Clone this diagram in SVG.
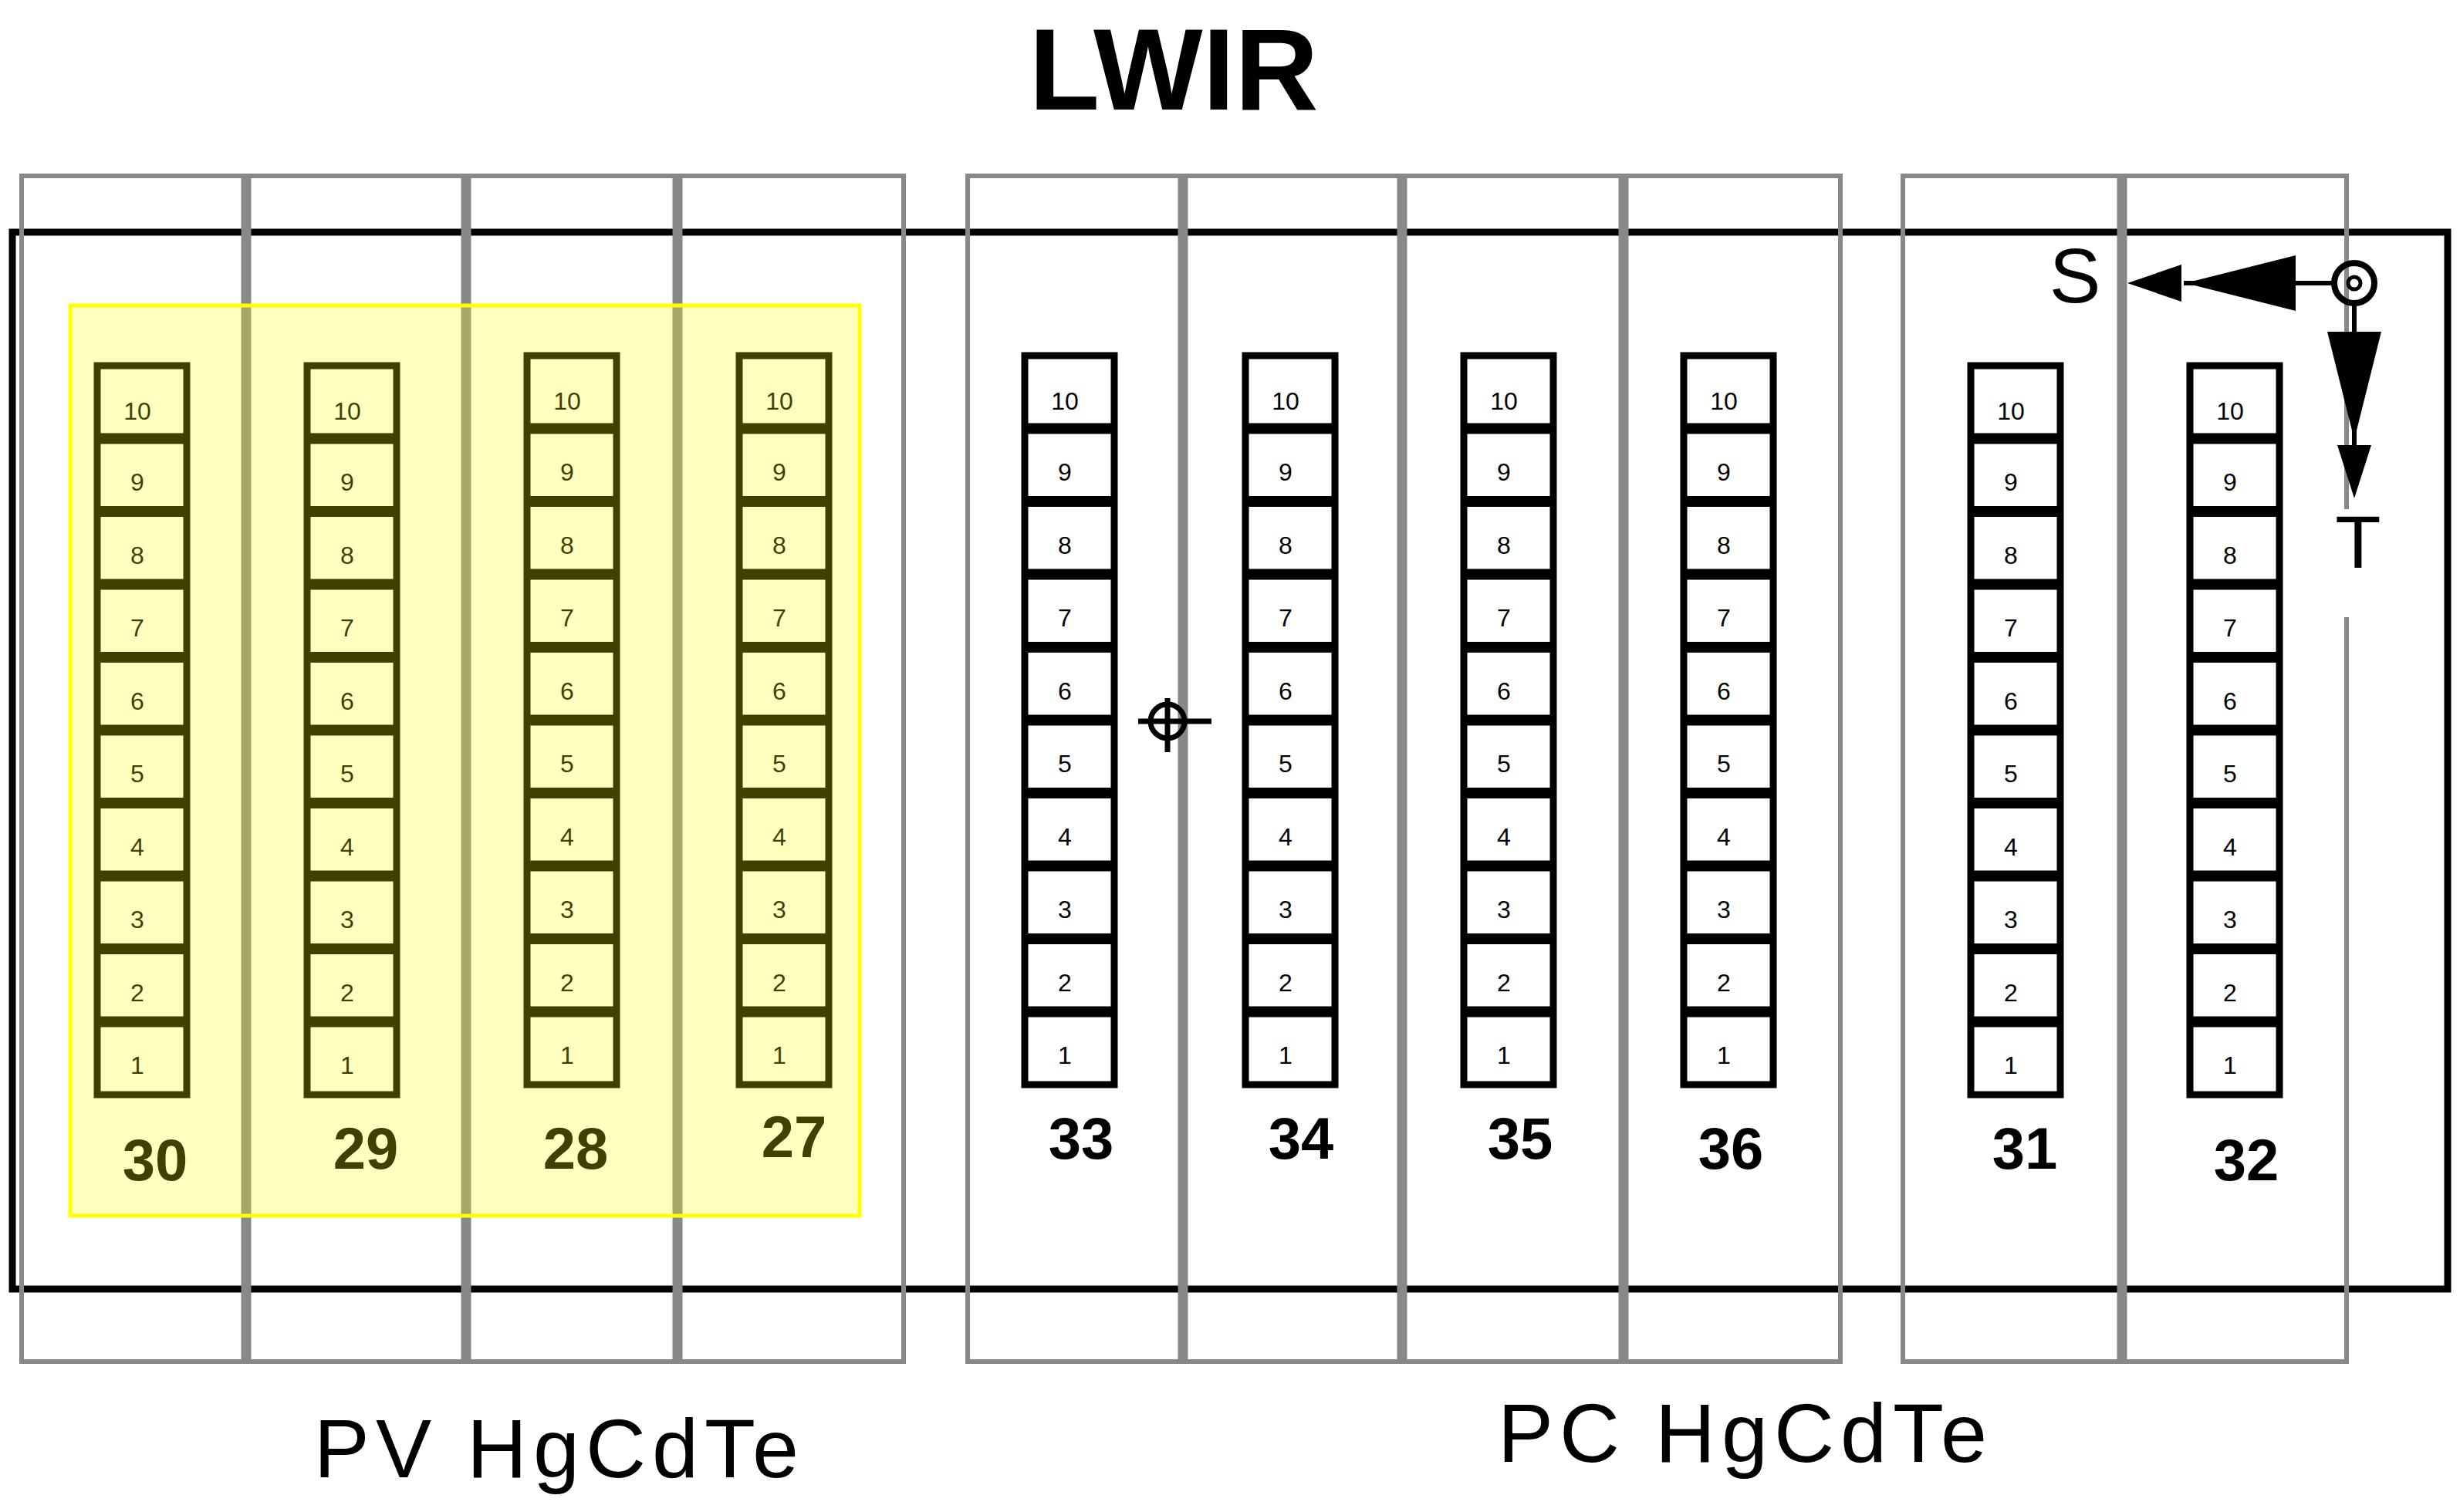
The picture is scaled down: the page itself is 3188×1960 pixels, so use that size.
<svg xmlns="http://www.w3.org/2000/svg" width="3188" height="1960" viewBox="0 0 3188 1960">
<style>
.g{fill:none;stroke:#888;stroke-width:6}
.gd{stroke:#888;stroke-width:13}
.cell{fill:#fff;stroke:#000;stroke-width:9}
.sep{stroke:#000;stroke-width:14}
.n{font-family:"Liberation Sans",Arial,sans-serif;font-size:32px;text-anchor:middle;fill:#000}
.lab{font-family:"Liberation Sans",Arial,sans-serif;font-size:76px;font-weight:bold;text-anchor:middle;fill:#000}
.big{font-family:"Liberation Sans",Arial,sans-serif;font-size:108px;text-anchor:middle;fill:#000;letter-spacing:8px}
</style>
<defs>
<g id="col">
<rect class="cell" x="0" y="0" width="116" height="945"/>
<line class="sep" x1="0" x2="116" y1="94.5" y2="94.5"/><line class="sep" x1="0" x2="116" y1="189" y2="189"/>
<line class="sep" x1="0" x2="116" y1="283.5" y2="283.5"/><line class="sep" x1="0" x2="116" y1="378" y2="378"/>
<line class="sep" x1="0" x2="116" y1="472.5" y2="472.5"/><line class="sep" x1="0" x2="116" y1="567" y2="567"/>
<line class="sep" x1="0" x2="116" y1="661.5" y2="661.5"/><line class="sep" x1="0" x2="116" y1="756" y2="756"/>
<line class="sep" x1="0" x2="116" y1="850.5" y2="850.5"/>
<text class="n" x="52" y="70">10</text><text class="n" x="52" y="162">9</text>
<text class="n" x="52" y="257">8</text><text class="n" x="52" y="351">7</text>
<text class="n" x="52" y="446">6</text><text class="n" x="52" y="540">5</text>
<text class="n" x="52" y="635">4</text><text class="n" x="52" y="729">3</text>
<text class="n" x="52" y="824">2</text><text class="n" x="52" y="918">1</text>
</g>
</defs>
<rect width="3188" height="1960" fill="#fff"/>
<text x="1521" y="142" font-family="Liberation Sans,Arial,sans-serif" font-size="150" font-weight="bold" text-anchor="middle">LWIR</text>
<g id="frame">
<rect x="16" y="301" width="3156" height="1370" fill="none" stroke="#000" stroke-width="9"/>
</g>
<g id="modules">
<rect class="g" x="28" y="228" width="1143" height="1537"/>
<line class="gd" x1="319" x2="319" y1="228" y2="1765"/>
<line class="gd" x1="604" x2="604" y1="228" y2="1765"/>
<line class="gd" x1="878" x2="878" y1="228" y2="1765"/>
<rect class="g" x="1254" y="228" width="1131" height="1537"/>
<line class="gd" x1="1533" x2="1533" y1="228" y2="1765"/>
<line class="gd" x1="1817" x2="1817" y1="228" y2="1765"/>
<line class="gd" x1="2104" x2="2104" y1="228" y2="1765"/>
<polyline class="g" points="3041,660 3041,228 2466,228 2466,1765 3041,1765 3041,800"/>
<line class="gd" x1="2750" x2="2750" y1="228" y2="1765"/>
</g>
<g id="c30"><use href="#col" x="126" y="474"/><text class="lab" x="201" y="1530">30</text></g>
<g id="c29"><use href="#col" x="398" y="474"/><text class="lab" x="474" y="1515">29</text></g>
<g id="c28"><use href="#col" x="683" y="461"/><text class="lab" x="746" y="1515">28</text></g>
<g id="c27"><use href="#col" x="958" y="461"/><text class="lab" x="1029" y="1500">27</text></g>
<g id="c33"><use href="#col" x="1328" y="461"/><text class="lab" x="1401" y="1502">33</text></g>
<g id="c34"><use href="#col" x="1614" y="461"/><text class="lab" x="1686" y="1502">34</text></g>
<g id="c35"><use href="#col" x="1897" y="461"/><text class="lab" x="1970" y="1502">35</text></g>
<g id="c36"><use href="#col" x="2182" y="461"/><text class="lab" x="2243" y="1515">36</text></g>
<g id="c31"><use href="#col" x="2554" y="474"/><text class="lab" x="2624" y="1515">31</text></g>
<g id="c32"><use href="#col" x="2838" y="474"/><text class="lab" x="2911" y="1530">32</text></g>
<rect id="pv" x="91" y="396" width="1023" height="1180" fill="#ffff00" fill-opacity="0.25" stroke="#ffff00" stroke-width="5"/>
<g id="crosshair" stroke="#000" stroke-width="7" fill="none">
<circle cx="1513" cy="935" r="22"/>
<line x1="1475" x2="1570" y1="935" y2="935"/><line x1="1513" x2="1513" y1="905" y2="975"/>
</g>
<g id="connectors">
<circle cx="3051" cy="367" r="26" fill="none" stroke="#000" stroke-width="8"/>
<circle cx="3051" cy="367" r="8" fill="none" stroke="#000" stroke-width="5"/>
<line x1="3025" x2="2830" y1="367" y2="367" stroke="#000" stroke-width="6"/>
<polygon points="2832,367 2975,331 2975,403" fill="#000"/>
<polygon points="2757,367 2827,343 2827,391" fill="#000"/>
<line x1="3051" x2="3051" y1="393" y2="580" stroke="#000" stroke-width="6"/>
<polygon points="3051,570 3016,430 3086,430" fill="#000"/>
<polygon points="3051,646 3029,577 3073,577" fill="#000"/>
</g>
<text x="2689" y="392" font-family="Liberation Sans,Arial,sans-serif" font-size="100" text-anchor="middle">S</text>
<text x="3056" y="736" font-family="Liberation Sans,Arial,sans-serif" font-size="97" text-anchor="middle">T</text>
<text class="big" x="725" y="1915">PV HgCdTe</text>
<text class="big" x="2262" y="1895">PC HgCdTe</text>
</svg>
